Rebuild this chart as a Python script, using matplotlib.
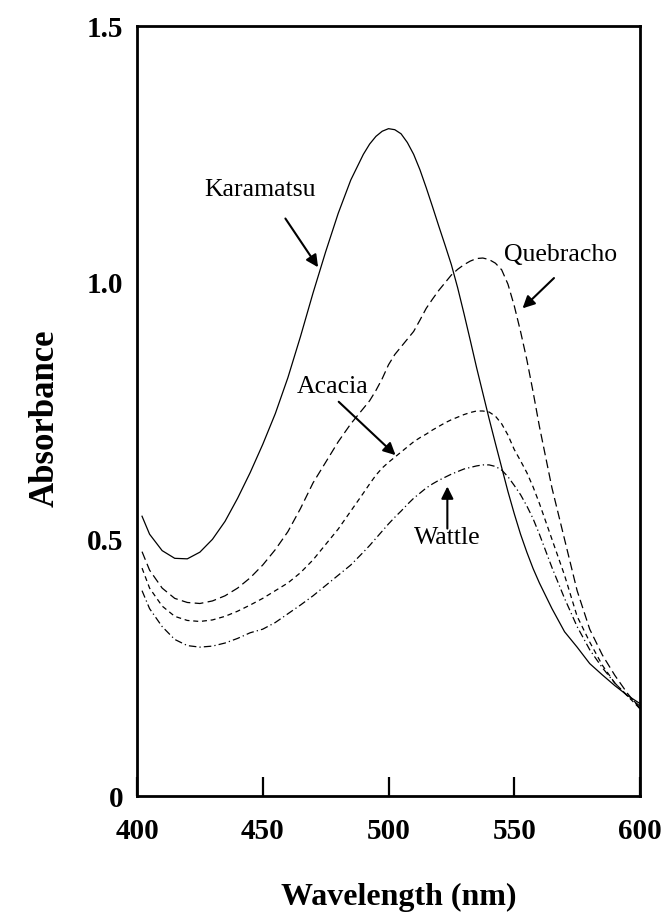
import matplotlib
matplotlib.use("Agg")
import matplotlib.pyplot as plt

wavelength = [402, 405, 410, 415, 420, 425, 430, 435, 440, 445, 450, 455, 460, 465,
              470, 475, 480, 485,
              490, 492.5, 495, 497.5, 500, 502.5, 505, 507.5, 510, 512.5, 515, 517.5,
              520, 522.5, 525, 527.5, 530, 532.5, 535, 537.5, 540, 542.5, 545, 547.5,
              550, 552.5, 555, 557.5, 560,
              565, 570, 575, 580, 585, 590, 595, 600]

karamatsu = [0.545, 0.510, 0.478, 0.463, 0.462, 0.475, 0.500, 0.535, 0.580, 0.630,
             0.685, 0.745, 0.815, 0.895, 0.980, 1.060, 1.135, 1.200,
             1.250, 1.270, 1.285, 1.295, 1.300, 1.298, 1.290, 1.273, 1.250, 1.220,
             1.185, 1.148, 1.110, 1.073, 1.035, 0.990, 0.940, 0.888, 0.835, 0.785,
             0.735, 0.687, 0.640, 0.593, 0.550, 0.510, 0.475, 0.443, 0.415,
             0.365, 0.320, 0.290, 0.258, 0.236, 0.215, 0.196, 0.180]

quebracho = [0.476, 0.440, 0.405, 0.385, 0.377, 0.375, 0.380, 0.390, 0.405, 0.425,
             0.450, 0.480, 0.515, 0.560, 0.610, 0.650, 0.690, 0.725,
             0.755, 0.770, 0.790, 0.813, 0.840, 0.860, 0.875, 0.890, 0.905, 0.927,
             0.950, 0.968, 0.985, 1.000, 1.015, 1.026, 1.035, 1.042, 1.047, 1.048,
             1.045, 1.038, 1.025, 0.997, 0.955, 0.905, 0.850, 0.787, 0.720,
             0.600, 0.500, 0.400, 0.325, 0.275, 0.235, 0.200, 0.170]

acacia = [0.444, 0.405, 0.370, 0.350, 0.342, 0.340, 0.343, 0.350, 0.360, 0.372,
          0.385, 0.400, 0.415, 0.435, 0.460, 0.490, 0.520, 0.555,
          0.590, 0.608, 0.625, 0.639, 0.650, 0.660, 0.670, 0.680, 0.690, 0.698,
          0.705, 0.713, 0.720, 0.727, 0.733, 0.738, 0.743, 0.747, 0.750, 0.750,
          0.748, 0.740, 0.725, 0.703, 0.675, 0.653, 0.630, 0.602, 0.570,
          0.500, 0.430, 0.350, 0.300, 0.255, 0.220, 0.195, 0.170]

wattle = [0.400, 0.365, 0.330, 0.305, 0.293, 0.290, 0.292, 0.298, 0.307, 0.318,
          0.325, 0.338, 0.355, 0.372, 0.390, 0.410, 0.430, 0.450,
          0.475, 0.488, 0.502, 0.516, 0.530, 0.543, 0.555, 0.568, 0.580, 0.590,
          0.600, 0.608, 0.615, 0.621, 0.627, 0.632, 0.637, 0.640, 0.643, 0.645,
          0.645, 0.642, 0.635, 0.622, 0.605, 0.587, 0.565, 0.540, 0.510,
          0.445, 0.385, 0.330, 0.285, 0.250, 0.220, 0.195, 0.175]

x_ticks = [400, 450, 500, 550, 600]
x_tick_labels = ["400", "450", "500", "550", "600"]
y_ticks = [0, 0.5, 1.0, 1.5]
y_tick_labels = ["0", "0.5", "1.0", "1.5"]

serif = ["Liberation Serif", "DejaVu Serif"]

fig = plt.figure(figsize=(6.63, 9.22), dpi=100)
ax = fig.add_axes([137/663, 1 - 796/922, (640-137)/663, (796-26)/922])

lw = 0.9
ax.plot(wavelength, karamatsu, color="black", lw=lw, linestyle="-")
ax.plot(wavelength, quebracho, color="black", lw=lw, linestyle=(0, (7, 3.5)))
ax.plot(wavelength, acacia, color="black", lw=lw, linestyle=(0, (4, 3)))
ax.plot(wavelength, wattle, color="black", lw=lw, linestyle=(0, (6, 2.5, 1, 2.5)))

ax.set_xlim(400, 600)
ax.set_ylim(0, 1.5)
ax.set_xticks(x_ticks)
ax.set_xticklabels(x_tick_labels)
ax.set_yticks(y_ticks)
ax.set_yticklabels(y_tick_labels)

for lab in ax.get_xticklabels() + ax.get_yticklabels():
    lab.set_fontfamily(serif)
    lab.set_fontweight("bold")
    lab.set_fontsize(21)

ax.tick_params(axis="x", direction="in", length=14, width=1.6, pad=16, colors="black")
ax.tick_params(axis="y", direction="in", length=0, pad=10)

for s in ax.spines.values():
    s.set_linewidth(2.0)
    s.set_color("black")

ax.set_xlabel("Wavelength (nm)", fontsize=23, fontweight="bold", family=serif)
ax.set_ylabel("Absorbance", fontsize=25, fontweight="bold", family=serif)
ax.xaxis.set_label_coords(0.52, -0.113)
ax.yaxis.set_label_coords(-0.15, 0.49)

arrow = dict(arrowstyle="-|>", color="black", lw=1.5, mutation_scale=18, shrinkA=0, shrinkB=0)
fs = 18.5

ax.annotate("", xy=(472, 1.03), xytext=(459, 1.125), arrowprops=arrow)
ax.text(449, 1.18, "Karamatsu", fontsize=fs, family=serif, ha="center", va="center")

ax.annotate("", xy=(553.3, 0.950), xytext=(565.8, 1.009), arrowprops=arrow)
ax.text(568.5, 1.054, "Quebracho", fontsize=fs, family=serif, ha="center", va="center")

ax.annotate("", xy=(502.8, 0.664), xytext=(480.2, 0.768), arrowprops=arrow)
ax.text(477.6, 0.797, "Acacia", fontsize=fs, family=serif, ha="center", va="center")

ax.annotate("", xy=(523.4, 0.603), xytext=(523.4, 0.521), arrowprops=arrow)
ax.text(523.4, 0.502, "Wattle", fontsize=fs, family=serif, ha="center", va="center")

fig.savefig("out.png", dpi=100)
